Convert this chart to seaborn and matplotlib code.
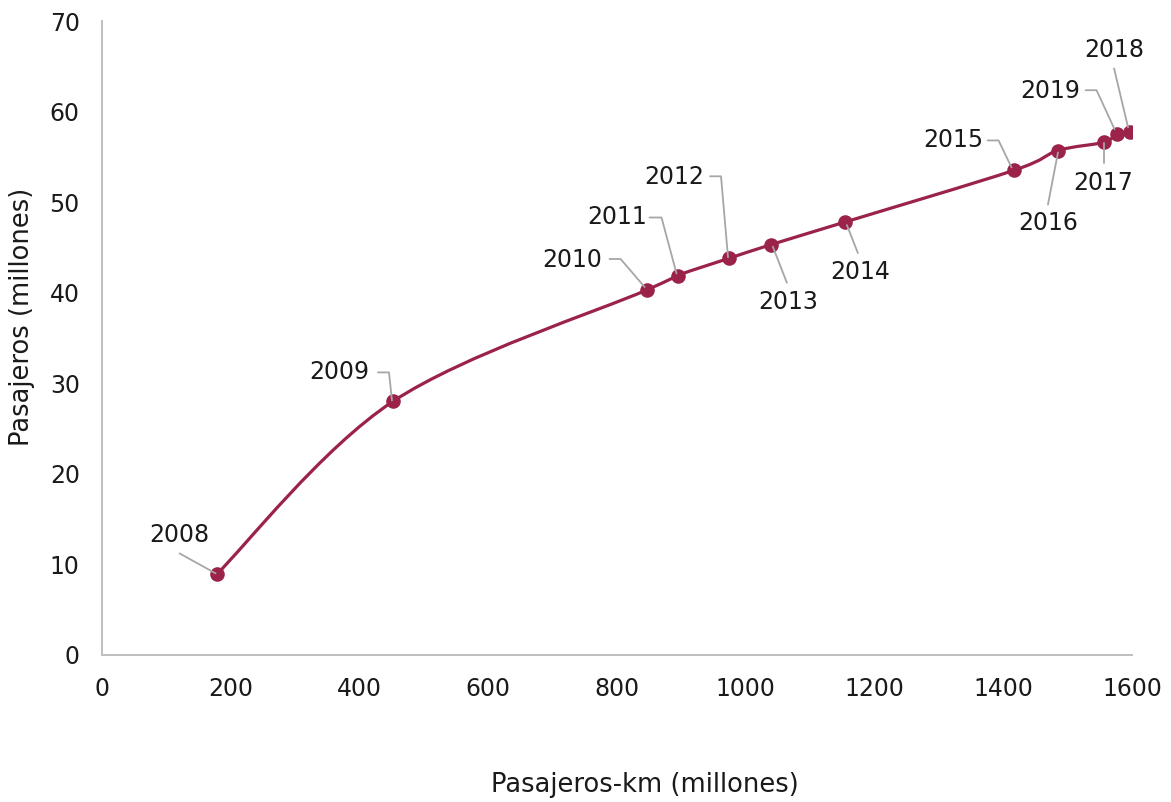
import numpy as np
import pandas as pd
import seaborn as sns
import matplotlib.pyplot as plt
from matplotlib.path import Path
from matplotlib.patches import PathPatch
from matplotlib.transforms import IdentityTransform

# Passengers vs passenger-km per year
years = [2008, 2009, 2010, 2011, 2012, 2013, 2014, 2015, 2016, 2017, 2018, 2019]
pasajeros_km = [178, 452, 846, 894, 974, 1039, 1154, 1416, 1485, 1556, 1597, 1576]
pasajeros = [8.9, 28.0, 40.3, 41.9, 43.8, 45.3, 47.8, 53.5, 55.7, 56.6, 57.7, 57.5]

x_ticks = list(range(0, 1601, 200))
y_ticks = list(range(0, 71, 10))

# label placement: text centre and leader vertices, in pixels relative to the point (y down)
label_text = {
    2008: (-37, -39), 2009: (-54, -29), 2010: (-74, -30), 2011: (-60, -59),
    2012: (-55, -81), 2013: (17, 57), 2014: (15, 50), 2015: (-60, -30),
    2016: (-10, 72), 2017: (0, 41), 2018: (-16, -82), 2019: (-66, -43),
}
label_leader = {
    2008: [(-37, -21), (-1, -1)],
    2009: [(-15, -29), (-4, -29), (-1, -1)],
    2010: [(-37, -31), (-26, -31), (-2, -3)],
    2011: [(-28, -58), (-16, -58), (-1, -2)],
    2012: [(-19, -82), (-8, -82), (-1, -1)],
    2013: [(2, 2), (16, 38)],
    2014: [(2, 3), (13, 31)],
    2015: [(-26, -30), (-15, -30), (-2, -3)],
    2016: [(0, 2), (-10, 54)],
    2017: [(0, 1), (0, 21)],
    2018: [(-16, -64), (-2, -5)],
    2019: [(-31, -44), (-20, -44), (-2, -5)],
}

LINE = "#9b2248"
LEADER = "#a6a6a6"
TEXT = "#1a1a1a"
AXIS = "#bfbfbf"

df = pd.DataFrame({"anio": years, "pkm": pasajeros_km, "pax": pasajeros})
df_sorted = df.sort_values("pkm").reset_index(drop=True)

sns.set_theme(style="white")
plt.rcParams["font.family"] = ["DejaVu Sans"]

fig = plt.figure(figsize=(11.71, 8.02), dpi=100)
ax = fig.add_axes([102 / 1171, 147 / 802, 1030 / 1171, 634 / 802])

ax.set_xlim(0, 1600)
ax.set_ylim(0, 70)

# smoothed connecting line (Catmull-Rom as cubic Bezier segments)
pts = df_sorted[["pkm", "pax"]].to_numpy(dtype=float)
n = len(pts)
verts = [pts[0]]
codes = [Path.MOVETO]
for i in range(n - 1):
    p0 = pts[max(i - 1, 0)]
    p1 = pts[i]
    p2 = pts[i + 1]
    p3 = pts[min(i + 2, n - 1)]
    c1 = p1 + (p2 - p0) / 6.0
    c2 = p2 - (p3 - p1) / 6.0
    verts += [c1, c2, p2]
    codes += [Path.CURVE4] * 3
ax.add_patch(PathPatch(Path(verts, codes), facecolor="none", edgecolor=LINE,
                       lw=2.3, capstyle="round", joinstyle="round", zorder=2))

sns.scatterplot(data=df, x="pkm", y="pax", ax=ax, color=LINE, s=110,
                edgecolor=LINE, linewidth=0, zorder=3, legend=False)

# year labels with leader lines
for yr, xv, yv in zip(df["anio"], df["pkm"], df["pax"]):
    px, py = ax.transData.transform((xv, yv))
    lx = [px + dx for dx, dy in label_leader[yr]]
    ly = [py - dy for dx, dy in label_leader[yr]]
    ax.add_line(plt.Line2D(lx, ly, transform=IdentityTransform(), color=LEADER,
                           lw=1.3, zorder=4, clip_on=False))
    tdx, tdy = label_text[yr]
    ax.annotate(str(yr), xy=(xv, yv), xytext=(tdx, -tdy), textcoords="offset pixels",
                ha="center", va="center", fontsize=17, color=TEXT, zorder=5)

ax.set_xticks(x_ticks)
ax.set_yticks(y_ticks)
ax.tick_params(axis="both", length=0, labelsize=17, labelcolor=TEXT)
ax.tick_params(axis="x", pad=16)
ax.tick_params(axis="y", pad=16)

for side in ["top", "right"]:
    ax.spines[side].set_visible(False)
for side in ["left", "bottom"]:
    ax.spines[side].set_color(AXIS)
    ax.spines[side].set_linewidth(1.4)

ax.set_xlabel("Pasajeros-km (millones)", fontsize=18.5, color=TEXT, va="center", ha="center")
ax.set_ylabel("Pasajeros (millones)", fontsize=18.5, color=TEXT, va="center", ha="center")
ax.xaxis.set_label_coords(0.527, -0.205)
ax.yaxis.set_label_coords(-0.078, 0.533)
ax.grid(False)

fig.savefig("out.png", dpi=100)
